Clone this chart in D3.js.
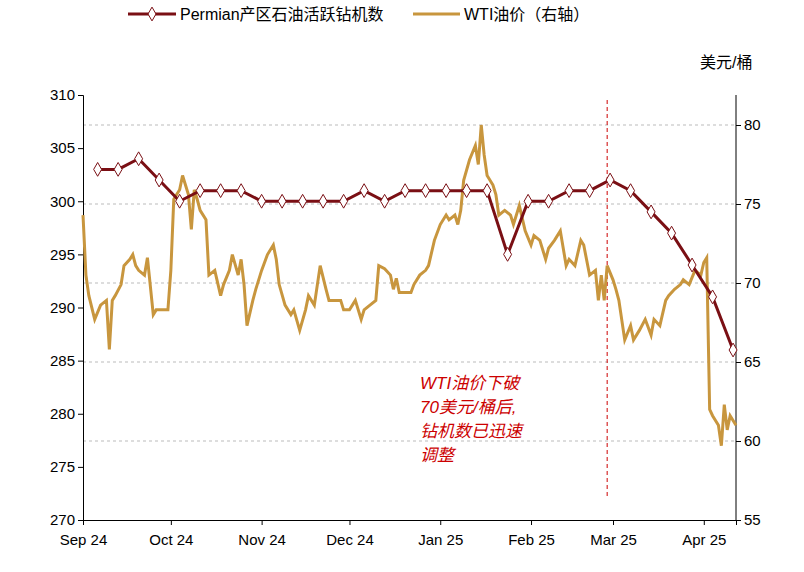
<!DOCTYPE html>
<html><head><meta charset="utf-8">
<script src="https://cdn.jsdelivr.net/npm/d3@7"></script>
<style>body{margin:0;background:#fff}text{font-family:"Liberation Sans","Noto Sans CJK SC",sans-serif}</style>
</head><body><svg id="c" width="804" height="572"></svg>
<script>
const rigDates=["2024-09-06","2024-09-13","2024-09-20","2024-09-27","2024-10-04","2024-10-11","2024-10-18","2024-10-25","2024-11-01","2024-11-08","2024-11-15","2024-11-22","2024-11-29","2024-12-06","2024-12-13","2024-12-20","2024-12-27","2025-01-03","2025-01-10","2025-01-17","2025-01-24","2025-01-31","2025-02-07","2025-02-14","2025-02-21","2025-02-28","2025-03-07","2025-03-14","2025-03-21","2025-03-28","2025-04-04","2025-04-11"];
const rigValues=[303,303,304,302,300,301,301,301,300,300,300,300,300,301,300,301,301,301,301,301,295,300,300,301,301,302,301,299,297,294,291,286];
const wtiDay=[0,1,2,4,6,8,9,10,11,13,14,16,17,18,19,21,22,24,25,27,29,30,31,33,34,36,37,38,39,40,42,43,45,47,48,50,51,53,54,55,56,58,59,61,63,65,66,67,69,71,72,74,76,77,79,81,83,84,86,88,89,91,93,95,96,98,100,101,103,105,106,107,108,110,112,113,115,117,118,120,122,124,125,127,128,129,130,132,134,135,136,137,138,140,141,142,144,146,147,149,151,153,154,156,158,159,161,163,165,166,168,170,171,173,175,176,177,178,179,181,182,183,185,187,188,190,192,194,195,197,199,200,202,204,205,207,209,211,212,213,214,215,217,218,219,220,221,223];
const wtiValues=[74.3,70.5,69.2,67.7,68.6,68.9,65.8,68.9,69.2,69.9,71.1,71.5,71.8,71.1,70.8,70.5,71.6,68.0,68.3,68.3,68.3,70.8,75.3,75.9,76.8,75.6,73.4,75.9,75.3,74.6,74.0,70.5,70.8,69.2,69.9,70.8,71.8,70.5,71.5,69.9,67.3,68.9,69.6,70.8,71.8,72.4,71.5,69.9,68.6,68.0,68.3,67.0,68.3,69.2,68.6,71.1,69.6,68.9,68.9,68.9,68.3,68.3,68.9,67.7,68.3,68.6,68.9,71.1,70.9,70.5,69.6,70.3,69.4,69.4,69.4,69.9,70.5,70.8,71.1,72.7,73.7,74.3,74.0,74.3,73.7,74.6,76.5,77.8,78.7,77.5,80.0,78.1,76.8,76.2,75.6,74.3,74.6,74.3,73.7,74.9,73.3,72.4,73.0,72.7,71.5,72.2,72.7,73.3,71.1,71.5,71.1,72.7,72.4,70.5,70.8,68.9,70.5,68.9,71.1,70.2,69.6,68.9,66.4,67.3,66.4,67.0,67.7,66.7,67.7,67.3,68.9,69.2,69.6,69.9,70.2,69.9,70.8,70.5,71.3,71.6,62.0,61.6,61.0,59.7,62.3,60.7,61.6,61.0];
const xTicks=["Sep 24","Oct 24","Nov 24","Dec 24","Jan 25","Feb 25","Mar 25","Apr 25"];
const leftTicks=[270,275,280,285,290,295,300,305,310];
const rightTicks=[55,60,65,70,75,80];
const noteLines=["WTI油价下破","70美元/桶后,","钻机数已迅速","调整"];

const svg=d3.select("#c");
const start=new Date(2024,8,1), end=new Date(2025,3,12);
const x=d3.scaleTime().domain([start,end]).range([83,736]);
const yL=d3.scaleLinear().domain([270,310]).range([520,95]);
const yR=d3.scaleLinear().domain([55,80]).range([520,125]);
const red="#7a0f14", gold="#c8963e";
const dayDate=d=>d3.timeDay.offset(start,d);

svg.selectAll(".g").data(rightTicks.slice(1)).enter().append("line")
 .attr("x1",83).attr("x2",736).attr("y1",d=>yR(d)).attr("y2",d=>yR(d))
 .attr("stroke","#bbb").attr("stroke-dasharray","3,3");

const ga=svg.append("g").attr("transform","translate(83,0)").call(d3.axisLeft(yL).tickValues(leftTicks).tickSize(5));
const gr=svg.append("g").attr("transform","translate(736,0)").call(d3.axisRight(yR).tickValues(rightTicks).tickSize(5));
const months=xTicks.map((t,i)=>new Date(2024,8+i,1));
const gb=svg.append("g").attr("transform","translate(0,520)").call(d3.axisBottom(x).tickValues(months).tickFormat((d,i)=>xTicks[i]).tickSize(5));
gr.select(".domain").attr("d","M0,95V520");
[ga,gr,gb].forEach(g=>{g.selectAll("text").attr("font-size",15).attr("fill","#000");g.selectAll("line,path").attr("stroke","#000");});
gb.selectAll("text").attr("dy","1.1em");

svg.append("line").attr("x1",x(new Date(2025,1,27))).attr("x2",x(new Date(2025,1,27))).attr("y1",100).attr("y2",497)
 .attr("stroke","#c00").attr("stroke-dasharray","4,3");

const wti=wtiDay.map((d,i)=>({d:dayDate(d),v:wtiValues[i]}));
svg.append("path").datum(wti).attr("fill","none").attr("stroke",gold).attr("stroke-width",3)
 .attr("d",d3.line().x(d=>x(d.d)).y(d=>yR(d.v)));

const rig=rigDates.map((d,i)=>({d:new Date(d+"T00:00"),v:rigValues[i]}));
svg.append("path").datum(rig).attr("fill","none").attr("stroke",red).attr("stroke-width",3)
 .attr("d",d3.line().x(d=>x(d.d)).y(d=>yL(d.v)));
const dia=d3.symbol().type(d3.symbolDiamond).size(55);
svg.selectAll(".m").data(rig).enter().append("path").attr("d",dia)
 .attr("transform",d=>`translate(${x(d.d)},${yL(d.v)})`).attr("fill","#fff").attr("stroke",red).attr("stroke-width",1);

svg.selectAll(".n").data(noteLines).enter().append("text").attr("x",420).attr("y",(d,i)=>389+i*24)
 .attr("fill","#c00").attr("font-style","italic").attr("font-size",17).text(d=>d);

svg.append("text").attr("x",700).attr("y",68).attr("font-size",16).text("美元/桶");

svg.append("line").attr("x1",128).attr("x2",176).attr("y1",14).attr("y2",14).attr("stroke",red).attr("stroke-width",3);
svg.append("path").attr("d",dia).attr("transform","translate(152,14)").attr("fill","#fff").attr("stroke",red);
svg.append("text").attr("x",180).attr("y",20).attr("font-size",16).text("Permian产区石油活跃钻机数");
svg.append("line").attr("x1",413).attr("x2",460).attr("y1",14).attr("y2",14).attr("stroke",gold).attr("stroke-width",3);
svg.append("text").attr("x",464).attr("y",20).attr("font-size",16).text("WTI油价（右轴）");
</script></body></html>
